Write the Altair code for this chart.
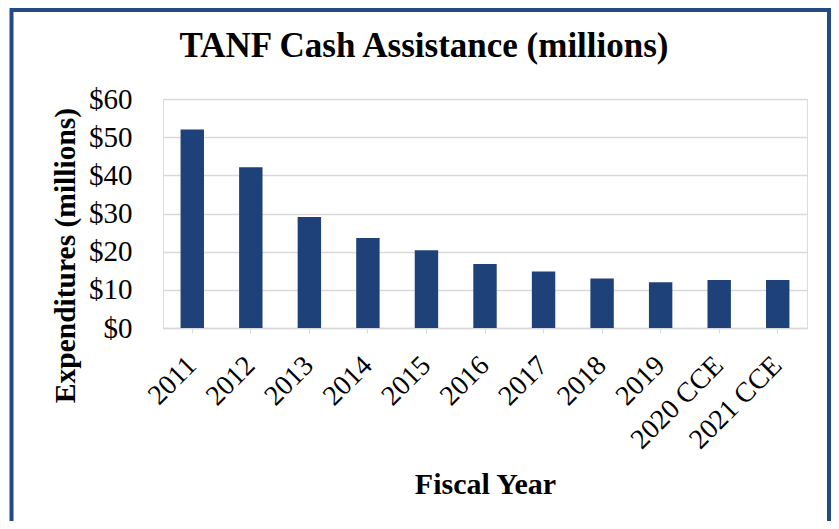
import altair as alt
import pandas as pd

years = ["2011", "2012", "2013", "2014", "2015", "2016", "2017", "2018", "2019", "2020 CCE", "2021 CCE"]
values = [52.0, 42.1, 29.1, 23.6, 20.4, 16.8, 14.8, 13.0, 12.0, 12.6, 12.6]
y_ticks = [0, 10, 20, 30, 40, 50, 60]

df = pd.DataFrame({"year": years, "value": values})

FONT = "Liberation Serif"
BAR = "#1F4179"
FRAME = "#244A85"
GRID = "#D9D9D9"

bars = alt.Chart(df).mark_bar(color=BAR).encode(
    x=alt.X(
        "year:N",
        sort=years,
        scale=alt.Scale(paddingInner=0.6, paddingOuter=0.3),
        axis=alt.Axis(
            title="Fiscal Year",
            titleFont=FONT,
            titleFontSize=30,
            titleFontWeight="bold",
            titleColor="black",
            titleBaseline="alphabetic",
            titleY=165,
            labelFont=FONT,
            labelFontSize=28,
            labelColor="black",
            labelAngle=-45,
            labelAlign="right",
            labelBaseline="middle",
            labelPadding=28,
            tickSize=5,
            tickColor=GRID,
            domainColor=GRID,
            domainWidth=1.5,
            grid=False,
        ),
    ),
    y=alt.Y(
        "value:Q",
        scale=alt.Scale(domain=[0, 60], nice=False),
        axis=alt.Axis(
            values=y_ticks,
            labelExpr="'$' + datum.value",
            title="Expenditures (millions)",
            titleFont=FONT,
            titleFontSize=29.5,
            titleFontWeight="bold",
            titleColor="black",
            titleAngle=270,
            titleAlign="center",
            titleBaseline="middle",
            titleX=-98,
            titleY=156,
            labelFont=FONT,
            labelFontSize=29,
            labelColor="black",
            labelPadding=31,
            ticks=False,
            domain=False,
            gridColor=GRID,
            gridWidth=1.5,
        ),
    ),
)

frame = alt.Chart(alt.Data(values=[{}])).mark_rect(
    filled=False, stroke=FRAME, strokeWidth=4
).encode(
    x=alt.value(-151.5), x2=alt.value(666), y=alt.value(-89), y2=alt.value(460)
)

chart = alt.layer(bars, frame).properties(
    width=644,
    height=229,
    title=alt.TitleParams(
        "TANF Cash Assistance (millions)",
        font=FONT,
        fontSize=35,
        fontWeight="bold",
        color="black",
        anchor="middle",
        frame="group",
        baseline="alphabetic",
        offset=0,
        dx=-61,
        dy=84,
    ),
    autosize=alt.AutoSizeParams(type="none"),
    padding={"left": 155, "top": 91, "right": 24, "bottom": 193},
).configure_view(stroke=None).configure(background="white")

chart.save("out.html", embed_options={"renderer": "svg", "actions": False})
